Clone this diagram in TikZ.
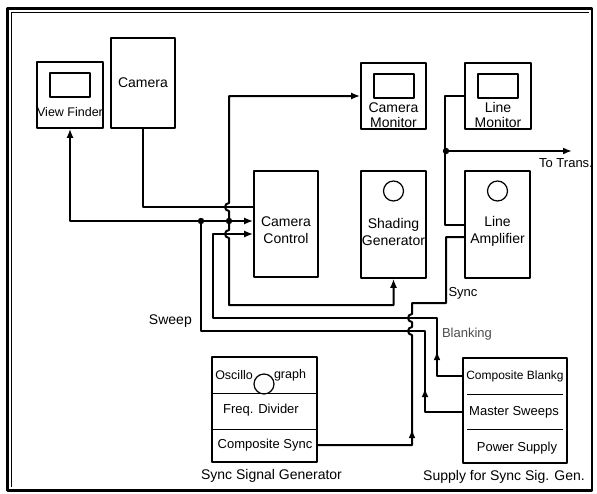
\documentclass[tikz,border=0pt]{standalone}
\usepackage{fontspec}
\setmainfont{Liberation Sans}
\usetikzlibrary{arrows.meta, positioning, decorations.markings}

\tikzset{mid arrow/.style={postaction={decorate}, decoration={markings, mark=at position #1 with {\arrow{Latex[length=9pt,width=7pt]}}}}}

\begin{document}
\begin{tikzpicture}[x=1pt, y=-1pt, line join=round, >={Latex[length=9pt,width=7pt]}]
\useasboundingbox (0,0) rectangle (597,493);

\tikzstyle{unit box}=[draw, line width=1.6pt, inner sep=0pt]
\tikzstyle{screen}=[draw, line width=1.2pt, minimum width=40pt, minimum height=24pt, inner sep=0pt]
\tikzstyle{lamp}=[draw, circle, line width=1.2pt, minimum size=20pt, inner sep=0pt]
\tikzstyle{wire}=[line width=2pt]
\tikzstyle{lbl}=[font=\fontsize{14}{15}\selectfont, inner sep=0pt, align=center]
\tikzstyle{row}=[font=\fontsize{13}{15}\selectfont, inner sep=0pt]

% Rahmen
\draw[line width=2.2pt] (7.5,8.5) rectangle (592,490.5);
\draw[line width=0.8pt] (11.5,487) -- (11.5,12.8) -- (589,12.8);

% Kamera und Sucher
\node[unit box, minimum width=66pt, minimum height=66pt] (vf) at (70,95) {};
\node[screen] (vfS) at (70,85) {};
\node[lbl, font=\fontsize{12.5}{14}\selectfont] at ([yshift=-17pt]vf.center) {View Finder};

\node[unit box, minimum width=64pt, minimum height=90pt] (cam) at (143,83) {};
\node[lbl] at (cam.center) {Camera};

% Monitore
\node[unit box, minimum width=65pt, minimum height=66pt] (cmon) at (393.5,96) {};
\node[screen] (cmonS) at (394,86) {};
\node[lbl] at ([yshift=-19pt]cmon.center) {Camera\\Monitor};

\node[unit box, minimum width=66pt, minimum height=66pt] (lmon) at (498,96) {};
\node[screen] (lmonS) at (498,86) {};
\node[lbl] at ([yshift=-19pt]lmon.center) {Line\\Monitor};

% Mittlere Reihe
\node[unit box, minimum width=64pt, minimum height=106pt] (cc) at (286,224) {};
\node[lbl, font=\fontsize{14}{17}\selectfont] at ([yshift=-6.5pt]cc.center) {Camera\\Control};

\node[unit box, minimum width=65pt, minimum height=107pt] (sg) at (393.5,224.5) {};
\node[lamp] (sgL) at (393.5,191) {};
\node[lbl, font=\fontsize{14}{17}\selectfont] at ([yshift=-7pt]sg.center) {Shading\\Generator};

\node[unit box, minimum width=65pt, minimum height=107pt] (la) at (497.5,224.5) {};
\node[lamp] (laL) at (497.5,191) {};
\node[lbl, font=\fontsize{14}{17}\selectfont] at ([yshift=-7pt]la.center) {Line\\Amplifier};

% Taktgeber
\node[unit box, minimum width=105pt, minimum height=105pt] (ssg) at (264.5,409.5) {};
\draw[line width=0.8pt] (212,393) -- (317,393);
\draw[line width=0.8pt] (212,429) -- (317,429);
\node[row, font=\fontsize{12.5}{15}\selectfont] (osc) at (234,375) {Oscillo};
\node[lamp] (oscL) at (264,384) {};
\node[row, font=\fontsize{12.5}{15}\selectfont] (graph) at (290,375) {graph};
\node[row] (fd) at (261,410) {Freq. Divider};
\node[row] (cs) at (265,445) {Composite Sync};
\node[lbl, below=6pt of ssg, xshift=7pt] {Sync Signal Generator};

% Versorgung
\node[unit box, minimum width=104pt, minimum height=105pt] (sup) at (515,410.5) {};
\draw[line width=0.8pt] (467,394) -- (563,394);
\draw[line width=0.8pt] (467,429) -- (563,429);
\node[row, font=\fontsize{12}{14}\selectfont] (cb) at (515,376) {Composite Blankg};
\node[row] (ms) at (514,412) {Master Sweeps};
\node[row] (ps) at (517,448) {Power Supply};
\node[lbl, below=6pt of sup, xshift=-11pt] {Supply for Sync Sig. Gen.};

% Knoten
\coordinate (jS) at (201,221);
\coordinate (jA) at (229,221);
\coordinate (jT) at (446,151);
\coordinate (trans) at (572,151);

% Verbindungen
\draw[wire] (cam.south) |- ([yshift=17pt]cc.west);
\draw[wire,<->] (vf.south) |- ([yshift=3pt]cc.west);
\draw[wire,<->] (cmon.west) -| (229,203) arc[start angle=90, end angle=270, radius=4pt]
    -- (229,230) arc[start angle=90, end angle=270, radius=4pt]
    -- (229,305) -| (sg.south);
\draw[wire,->,mid arrow=50pt] (sup.west |- cb) -| (437,318) -- (213,318) |- ([yshift=-10pt]cc.west);
\draw[wire,mid arrow=61pt] (sup.west |- ms) -| (425,331) -| (jS);
\draw[wire,mid arrow=110pt] (ssg.east |- cs) -| (412,335) arc[start angle=-90, end angle=-270, radius=4pt]
    -- (412,322) arc[start angle=-90, end angle=-270, radius=4pt]
    -- (412,303) -- (446,303) |- ([yshift=-12.5pt]la.west);
\draw[wire] (la.west) -- ++(-19pt,0) |- (lmon.west);
\draw[wire,->] (jT) -- (trans);

\foreach \p in {jS,jA,jT}
    \fill (\p) circle (3.2pt);

% Beschriftungen
\node[lbl, anchor=east] (sweep) at (192,321) {Sweep};
\node[lbl, font=\fontsize{13}{15}\selectfont] (sync) at (463,293) {Sync};
\node[lbl, font=\fontsize{13}{15}\selectfont, text=black!70] (blank) at (467,334) {Blanking};
\node[lbl, font=\fontsize{13}{15}\selectfont] (totrans) at (566,163) {To Trans.};

\end{tikzpicture}
\end{document}
